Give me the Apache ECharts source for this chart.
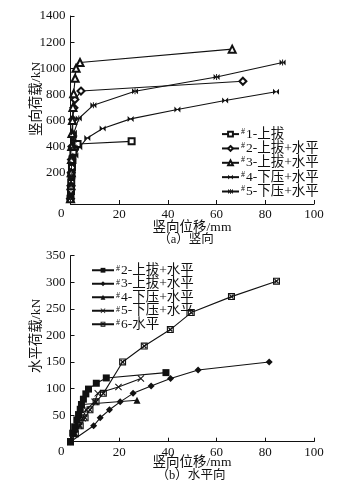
<!DOCTYPE html>
<html><head><meta charset="utf-8">
<script src="https://cdn.jsdelivr.net/npm/echarts@6/dist/echarts.min.js"></script>
<style>html,body{margin:0;padding:0;background:#fff}#c{width:364px;height:488px}</style>
</head><body><div id="c"></div>
<script>
// ---- data ----
const xTicks = [0, 20, 40, 60, 80, 100];
const yTicksA = [200, 400, 600, 800, 1000, 1200, 1400];
const yTicksB = [50, 100, 150, 200, 250, 300, 350];
const originLabel = '0';

// (a) vertical load vs vertical displacement  [mm, kN]
const namesA = ['#1-上拔', '#2-上拔+水平', '#3-上拔+水平', '#4-下压+水平', '#5-下压+水平'];
const a1 = [[0,0],[0.2,60],[0.3,120],[0.4,180],[0.6,240],[0.8,300],[1.2,360],[1.8,400],[2.9,420],[25.1,440]];
const a2 = [[0,0],[0.2,100],[0.3,200],[0.4,300],[0.6,400],[0.9,480],[0.9,607],[1.4,697],[1.8,760],[4.3,825],[70.8,900]];
const a3 = [[0,0],[0.2,100],[0.3,200],[0.4,300],[0.5,400],[0.6,500],[0.8,600],[1.0,700],[1.3,805],[1.9,923],[2.3,1000],[3.9,1044],[66.4,1146]];
const a4 = [[0,0],[0.2,50],[0.3,100],[0.4,160],[0.6,220],[0.9,270],[2.0,332],[3.6,394],[6.9,466],[13.2,538],[24.7,612],[43.9,684],[63.5,753],[84.4,820]];
const a5 = [[0,0],[0.2,100],[0.3,180],[0.4,260],[0.6,320],[0.9,389],[1.2,450],[1.4,505],[3.4,615],[9.4,717],[26.5,823],[60.0,933],[87.1,1044]];

// (b) horizontal load vs displacement  [mm, kN]
const namesB = ['#2-上拔+水平', '#3-上拔+水平', '#4-下压+水平', '#5-下压+水平', '#6-水平'];
const b2 = [[0,0],[0.9,16],[1.7,28],[2.6,41],[3.3,51],[4.0,61],[4.5,70],[5.3,80],[6.3,90],[7.4,99],[10.6,110],[14.7,120],[39.2,130]];
const b3 = [[0,0],[9.5,30],[12.2,45],[16.0,60],[20.4,75],[25.7,91],[33.1,105],[41.1,119],[52.4,135],[81.6,150]];
const b4 = [[0,0],[1.2,18],[2.2,33],[3.2,48],[4.0,60],[4.8,70],[27.3,78]];
const b5 = [[0,0],[2.0,15],[3.5,30],[5.0,44],[6.4,60],[9.9,75],[11.2,91],[19.7,103],[28.9,119]];
const b6 = [[0,0],[2.0,15],[4.0,30],[6.0,45],[8.0,60],[10.5,75],[13.5,91],[21.4,150],[30.3,180],[41.0,211],[49.6,243],[66.1,273],[84.6,302]];

// ---- style ----
const INK = '#111';
const SERIF = '"Liberation Serif", "Noto Sans CJK SC", serif';
const ZW = '\u200b';
const bowtie = 'path://M0,0L10,10L10,0L0,10Z';
const asterisk = 'path://M0,0L10,10L10,0L0,10Z M4.2,0L5.8,0L5.8,10L4.2,10Z';
const cross = 'path://M0,1L1,0L5,4L9,0L10,1L6,5L10,9L9,10L5,6L1,10L0,9L4,5Z';
const boxX = 'path://M0,0L10,0L10,10L0,10Z M1.6,1.6L1.6,8.4L8.4,8.4L8.4,1.6Z M1.6,2.8L2.8,1.6L8.4,7.2L7.2,8.4Z M7.2,1.6L8.4,2.8L2.8,8.4L1.6,7.2Z';

function mk(name, data, symbol, size, xi, hollow) {
  return {
    type: 'line', name: name, data: data, xAxisIndex: xi, yAxisIndex: xi,
    symbol: symbol, symbolSize: size, showSymbol: true,
    lineStyle: { color: INK, width: 1.1 },
    itemStyle: hollow ? { color: INK, borderColor: INK, borderWidth: 0.8 } : { color: INK, borderWidth: 0 },
    emphasis: { disabled: true }, animation: false, z: 3
  };
}

const xTicksShown = xTicks.filter(function (v) { return v > 0; });
function xAxis(gi) {
  return {
    type: 'value', gridIndex: gi, min: 0, max: 100,
    name: originLabel, nameLocation: 'start', nameGap: 6,
    nameTextStyle: { color: INK, fontFamily: SERIF, fontSize: 13, verticalAlign: 'top', lineHeight: 19 },
    axisLabel: {
      customValues: xTicksShown, color: INK, fontFamily: SERIF, fontSize: 13, margin: 4,
      formatter: function (v) { return String(v); }
    },
    axisTick: { customValues: xTicksShown, inside: true, length: 4, lineStyle: { color: INK } },
    axisLine: { onZero: false, lineStyle: { color: INK, width: 1 } },
    splitLine: { show: false }
  };
}
function yAxis(gi, min, max, ticks) {
  return {
    type: 'value', gridIndex: gi, min: min, max: max,
    axisLabel: { customValues: ticks, color: INK, fontFamily: SERIF, fontSize: 13, margin: 5,
      formatter: function (v) { return String(v); } },
    axisTick: { customValues: ticks, inside: true, length: 4, lineStyle: { color: INK } },
    axisLine: { show: true, onZero: false, lineStyle: { color: INK, width: 1 } },
    splitLine: { show: false }
  };
}
function legend(names, left, top, lh, iw) {
  return {
    data: names, orient: 'vertical', left: left, top: top, itemGap: 0,
    itemWidth: iw, itemHeight: 6, selectedMode: false,
    formatter: function (n) { return '{s|#}{n|' + n.replace(ZW, '').slice(1) + '}'; },
    textStyle: {
      color: INK, fontFamily: SERIF, fontSize: 13.5, padding: [0, 0, 0, -3],
      rich: {
        s: { fontFamily: SERIF, fontSize: 8, color: INK, lineHeight: lh, verticalAlign: 'top', padding: [1, 1, 0, 0] },
        n: { fontFamily: SERIF, fontSize: 13.5, color: INK, lineHeight: lh }
      }
    }
  };
}

const namesB2 = namesB.map(function (n) { return n + ZW; });
function txt(x, y, s, size, rot) {
  const o = { type: 'text', x: x, y: y, style: { text: s, fill: INK, font: size + 'px ' + SERIF, align: 'center', verticalAlign: 'middle' } };
  if (rot) o.rotation = rot;
  return o;
}

const option = {
  backgroundColor: '#fff',
  animation: false,
  grid: [
    { left: 70.5, right: 50, top: 16, height: 188 },
    { left: 70.5, right: 50, top: 255.7, height: 186 }
  ],
  xAxis: [xAxis(0), xAxis(1)],
  yAxis: [yAxis(0, -40, 1400, yTicksA), yAxis(1, 0, 350, yTicksB)],
  legend: [legend(namesA, 216, 121.5, 15.2, 17), legend(namesB2, 86, 258.5, 12.5, 22)],
  series: [
    mk(namesA[0], a1, 'emptyRect', 6, 0, true),
    mk(namesA[1], a2, 'emptyDiamond', 7, 0, true),
    mk(namesA[2], a3, 'emptyTriangle', 7, 0, true),
    mk(namesA[3], a4, bowtie, 6, 0, false),
    mk(namesA[4], a5, asterisk, 6, 0, false),
    mk(namesB2[0], b2, 'rect', 7, 1, false),
    mk(namesB2[1], b3, 'diamond', 7, 1, false),
    mk(namesB2[2], b4, 'triangle', 7, 1, false),
    mk(namesB2[3], b5, cross, 7, 1, false),
    mk(namesB2[4], b6, boxX, 7, 1, false)
  ],
  graphic: [
    txt(36, 99, '竖向荷载/kN', 13.5, Math.PI / 2),
    txt(36, 336, '水平荷载/kN', 13.5, Math.PI / 2),
    txt(192, 227.7, '竖向位移/mm', 13.5),
    txt(186, 239.5, '（a）竖向', 12.5),
    txt(192, 462.3, '竖向位移/mm', 13.5),
    txt(191, 476, '（b）水平向', 12.5)
  ]
};
const chart = echarts.init(document.getElementById('c'), null, { renderer: 'canvas' });
chart.setOption(option);
</script></body></html>
